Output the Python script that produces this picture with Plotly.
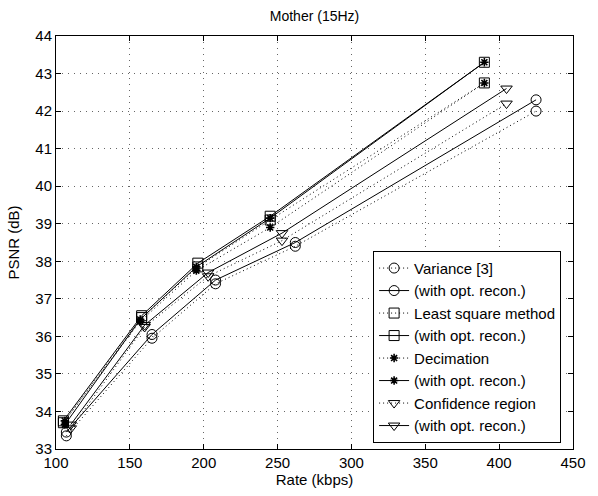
import plotly.graph_objects as go

# Data (Rate kbps, PSNR dB)
var_x = [107, 165, 208, 262, 425]
var_y = [33.35, 35.95, 37.40, 38.40, 42.00]
var_opt_y = [33.45, 36.05, 37.50, 38.50, 42.30]

ls_x = [105, 158, 196, 245, 390]
ls_y = [33.70, 36.50, 37.85, 39.10, 42.75]
ls_opt_y = [33.75, 36.55, 37.95, 39.20, 43.30]

dec_x = [106, 157, 195, 245, 390]
dec_y = [33.75, 36.40, 37.75, 38.90, 42.75]
dec_opt_y = [33.65, 36.45, 37.85, 39.15, 43.30]

conf_x = [110, 160, 203, 253, 405]
conf_y = [33.55, 36.25, 37.60, 38.55, 42.20]
conf_opt_y = [33.65, 36.30, 37.70, 38.75, 42.60]

names = ["Variance [3]", "(with opt. recon.)", "Least square method", "(with opt. recon.)",
         "Decimation", "(with opt. recon.)", "Confidence region", "(with opt. recon.)"]

series = [
    (var_x, var_y, "circle-open", "1px,3px"),
    (var_x, var_opt_y, "circle-open", "solid"),
    (ls_x, ls_y, "square-open", "1px,3px"),
    (ls_x, ls_opt_y, "square-open", "solid"),
    (dec_x, dec_y, "asterisk-open", "1px,3px"),
    (dec_x, dec_opt_y, "asterisk-open", "solid"),
    (conf_x, conf_y, "triangle-down-open", "1px,3px"),
    (conf_x, conf_opt_y, "triangle-down-open", "solid"),
]

fig = go.Figure()
for (x, y, sym, dash), name in zip(series, names):
    is_star = "asterisk" in sym
    fig.add_trace(go.Scatter(
        x=x, y=y, name=name, mode="lines+markers",
        line=dict(color="black", width=1, dash=dash),
        marker=dict(symbol=sym, size=7 if is_star else 10,
                    color="black", line=dict(color="black", width=1.6 if is_star else 1)),
    ))

font = "Liberation Sans, Arial, sans-serif"
axis_common = dict(
    showline=True, linecolor="black", linewidth=1, mirror="ticks",
    ticks="inside", ticklen=5, tickcolor="black",
    showgrid=True, gridcolor="#666666", griddash="1px,5px", gridwidth=1,
    zeroline=False, tickfont=dict(family=font, size=15, color="black"),
)

fig.update_layout(
    width=598, height=496,
    margin=dict(l=56, r=15, t=36, b=42),
    paper_bgcolor="white", plot_bgcolor="white",
    font=dict(family=font, size=15, color="black"),
    title=dict(text="Mother (15Hz)", x=0.5, xref="paper", xanchor="center",
               y=1 - 16 / 496, yanchor="middle", font=dict(size=14)),
    xaxis=dict(range=[100, 450], tickvals=[100, 150, 200, 250, 300, 350, 400, 450],
               title=dict(text="Rate (kbps)", standoff=2, font=dict(size=15)), **axis_common),
    yaxis=dict(range=[33, 44], dtick=1,
               title=dict(text="PSNR (dB)", standoff=12, font=dict(size=15)), **axis_common),
    legend=dict(x=0.977, y=0.015, xanchor="right", yanchor="bottom",
                bgcolor="white", bordercolor="black", borderwidth=1,
                font=dict(size=15), tracegroupgap=0),
    showlegend=True,
)

fig.write_html("out.html")
